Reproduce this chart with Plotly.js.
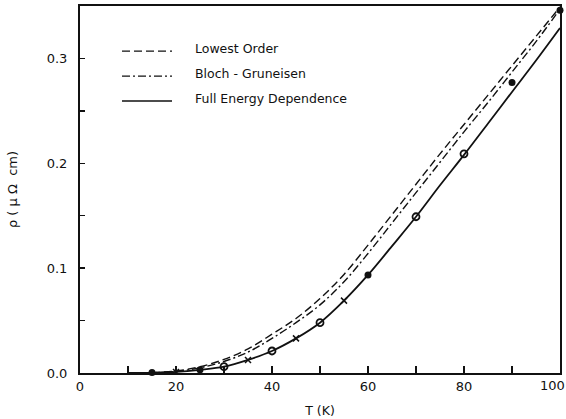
<!DOCTYPE html>
<html>
<head>
<meta charset="utf-8">
<script src="https://cdn.plot.ly/plotly-3.0.1.min.js"></script>
<style>
  html, body { margin: 0; padding: 0; background: #fff; }
  #chart { width: 566px; height: 419px; }
</style>
</head>
<body>
<div id="chart"></div>
<script>
// Temperature grid for the calculated resistivity curves (K)
const temperature = [10, 15, 20, 25, 30, 35, 40, 45, 50, 55, 60, 65, 70, 75, 80, 85, 90, 95, 100];

// Calculated resistivity, micro-ohm cm
const rhoLowestOrder = [0, 0.0004, 0.002, 0.006, 0.013, 0.023, 0.037, 0.052, 0.071, 0.094, 0.122, 0.151, 0.180, 0.209, 0.237, 0.265, 0.293, 0.321, 0.349];
const rhoBlochGruneisen = [0, 0.0003, 0.0015, 0.005, 0.011, 0.020, 0.033, 0.048, 0.065, 0.087, 0.114, 0.143, 0.172, 0.201, 0.230, 0.258, 0.287, 0.316, 0.347];
const rhoFullEnergy = [0, 0.0002, 0.001, 0.003, 0.006, 0.0125, 0.021, 0.033, 0.048, 0.069, 0.0935, 0.121, 0.149, 0.179, 0.208, 0.238, 0.268, 0.298, 0.329];

// Measured points, grouped by symbol
const openT = [30, 40, 50, 70, 80];
const openRho = [0.006, 0.021, 0.048, 0.149, 0.209];
const crossT = [20, 35, 45, 55];
const crossRho = [0.001, 0.0124, 0.033, 0.069];
const filledT = [15, 25, 60, 90, 100];
const filledRho = [0.0005, 0.003, 0.0935, 0.277, 0.346];

// Axis ticks
const xTickVals = [0, 20, 40, 60, 80];
const xLastTick = 100;
const yTickVals = [0, 0.1, 0.2, 0.3];

// Legend entries
const legendLabels = ['Lowest Order', 'Bloch - Gruneisen', 'Full Energy Dependence'];
const legendDashes = ['8px,4px', '8px,3px,2px,3px', 'solid'];

const ink = '#111';
const font = 'DejaVu Sans, sans-serif';

const traces = [
  { x: temperature, y: rhoLowestOrder, mode: 'lines', line: { color: ink, width: 1.4, dash: legendDashes[0], shape: 'spline' }, hoverinfo: 'skip' },
  { x: temperature, y: rhoBlochGruneisen, mode: 'lines', line: { color: ink, width: 1.4, dash: legendDashes[1], shape: 'spline' }, hoverinfo: 'skip' },
  { x: temperature, y: rhoFullEnergy, mode: 'lines', line: { color: ink, width: 1.8, shape: 'spline' }, hoverinfo: 'skip' },
  { x: openT, y: openRho, mode: 'markers', marker: { symbol: 'circle-open', size: 7, color: ink, line: { width: 1.8 } } },
  { x: crossT, y: crossRho, mode: 'markers', marker: { symbol: 'x-thin-open', size: 6, color: ink, line: { width: 1.5 } } },
  { x: filledT, y: filledRho, mode: 'markers', cliponaxis: false, marker: { symbol: 'circle', size: 7, color: ink } }
];

// Hand-drawn key in the upper left of the plot area
const rowsY = [0.877, 0.809, 0.741];
const shapes = legendLabels.map((_, i) => ({
  type: 'line', xref: 'paper', yref: 'paper',
  x0: 0.0875, x1: 0.1917, y0: rowsY[i], y1: rowsY[i],
  line: { color: ink, width: 1.4, dash: legendDashes[i] }
}));
const annotations = legendLabels.map((t, i) => ({
  text: t, xref: 'paper', yref: 'paper', x: 0.235, y: rowsY[i] + 0.008,
  xanchor: 'left', yanchor: 'middle', showarrow: false,
  font: { family: font, size: 12.5, color: ink }
}));
// The last x label sits against the right edge, so it is right-aligned there
annotations.push({
  text: String(xLastTick), xref: 'x', yref: 'paper', x: xLastTick, y: 0,
  xanchor: 'right', yanchor: 'top', xshift: 7, yshift: -3, showarrow: false,
  font: { family: font, size: 13, color: ink }
});

const layout = {
  width: 566, height: 419,
  margin: { l: 80, r: 6, t: 6, b: 46 },
  paper_bgcolor: '#fff', plot_bgcolor: '#fff',
  showlegend: false,
  font: { family: font, color: ink },
  xaxis: {
    range: [0, 100], tickvals: xTickVals,
    ticks: 'inside', ticklen: 7, tickwidth: 1.5, tickcolor: ink,
    minor: { dtick: 10, ticks: 'inside', ticklen: 7, tickwidth: 1.5, tickcolor: ink },
    showline: true, linewidth: 2, linecolor: ink, mirror: true,
    showgrid: false, zeroline: false,
    tickfont: { family: font, size: 13, color: ink },
    title: { text: 'T (K)', font: { family: font, size: 12.5, color: ink }, standoff: 14 }
  },
  yaxis: {
    range: [0, 0.35], tickvals: yTickVals, tickformat: '.1f',
    ticks: 'inside', ticklen: 5, tickwidth: 1.5, tickcolor: ink,
    minor: { dtick: 0.05, ticks: 'inside', ticklen: 5, tickwidth: 1.5, tickcolor: ink },
    showline: true, linewidth: 2, linecolor: ink, mirror: true,
    showgrid: false, zeroline: false,
    ticklabelstandoff: 8,
    tickfont: { family: font, size: 13, color: ink },
    title: { text: 'ρ ( μ Ω  cm)', font: { family: font, size: 13, color: ink }, standoff: 26 }
  },
  shapes: shapes,
  annotations: annotations
};

Plotly.newPlot('chart', traces, layout, { displayModeBar: false, staticPlot: true });
</script>
</body>
</html>
